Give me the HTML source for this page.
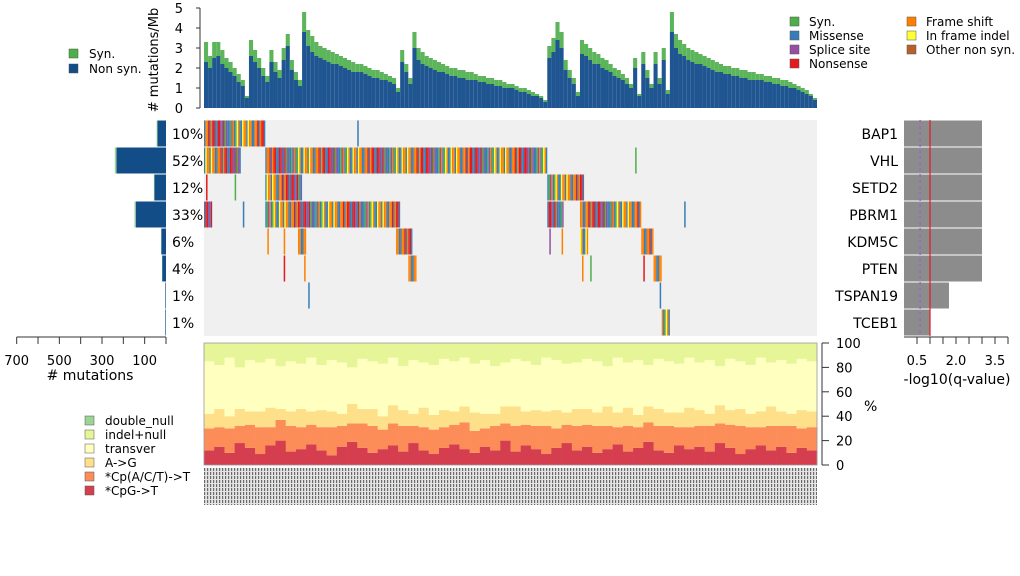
<!DOCTYPE html>
<html><head><meta charset="utf-8">
<style>
html,body{margin:0;padding:0;background:#fff;}
svg{display:block;font-family:"DejaVu Sans","Liberation Sans",sans-serif;}
</style></head>
<body>
<svg id="chart" width="1020" height="576" viewBox="0 0 1020 576">
<g font-size="12">
<rect x="69" y="49" width="9" height="9" fill="#4daf4a" stroke="#555" stroke-width="0.5"/><text x="89" y="58">Syn.</text>
<rect x="69" y="64" width="9" height="9" fill="#134d87" stroke="#555" stroke-width="0.5"/><text x="89" y="73">Non syn.</text>
</g>
<g font-size="12">
<rect x="790" y="17" width="9" height="9" fill="#4daf4a" stroke="#555" stroke-width="0.5"/><text x="809" y="26">Syn.</text>
<rect x="790" y="31" width="9" height="9" fill="#377eb8" stroke="#555" stroke-width="0.5"/><text x="809" y="40">Missense</text>
<rect x="790" y="45" width="9" height="9" fill="#984ea3" stroke="#555" stroke-width="0.5"/><text x="809" y="54">Splice site</text>
<rect x="790" y="59" width="9" height="9" fill="#e41a1c" stroke="#555" stroke-width="0.5"/><text x="809" y="68">Nonsense</text>
<rect x="907" y="17" width="9" height="9" fill="#ff7f00" stroke="#555" stroke-width="0.5"/><text x="926" y="26">Frame shift</text>
<rect x="907" y="31" width="9" height="9" fill="#ffff33" stroke="#555" stroke-width="0.5"/><text x="926" y="40">In frame indel</text>
<rect x="907" y="45" width="9" height="9" fill="#b8602a" stroke="#555" stroke-width="0.5"/><text x="926" y="54">Other non syn.</text>
</g>
<g id="tmb"></g>
<text transform="translate(158,60) rotate(-90)" text-anchor="middle" font-size="13"># mutations/Mb</text>
<rect x="204" y="120" width="613" height="216" fill="#f0f0f0"/>
<g id="onco"></g>
<g id="left"></g>
<g id="right"></g>
<g id="comp"></g>
<text x="864" y="411" font-size="14">%</text>
<defs><pattern id="lab" width="3" height="4" patternUnits="userSpaceOnUse"><rect width="3" height="4" fill="#e4e4e4"/><rect width="1.2" height="3" fill="#6a6a6a"/></pattern></defs>
<rect x="204" y="468" width="613" height="37" fill="url(#lab)"/>
<g font-size="12">
<rect x="85" y="416" width="9" height="9" fill="#99d594" stroke="#555" stroke-width="0.5"/><text x="105" y="425">double_null</text>
<rect x="85" y="430" width="9" height="9" fill="#e6f598" stroke="#555" stroke-width="0.5"/><text x="105" y="439">indel+null</text>
<rect x="85" y="444" width="9" height="9" fill="#ffffbf" stroke="#555" stroke-width="0.5"/><text x="105" y="453">transver</text>
<rect x="85" y="458" width="9" height="9" fill="#fee08b" stroke="#555" stroke-width="0.5"/><text x="105" y="467">A-&gt;G</text>
<rect x="85" y="472" width="9" height="9" fill="#fc8d59" stroke="#555" stroke-width="0.5"/><text x="105" y="481">*Cp(A/C/T)-&gt;T</text>
<rect x="85" y="486" width="9" height="9" fill="#d53e4f" stroke="#555" stroke-width="0.5"/><text x="105" y="495">*CpG-&gt;T</text>
</g>
</svg>
<script>
const tmbTotal=[3.3,2.6,3.3,3.3,2.9,2.5,2.3,2.0,1.7,1.4,0.6,3.4,2.9,2.5,2.0,
1.6,2.9,2.3,1.9,3.0,3.7,2.4,1.8,1.4,
4.8,3.9,3.6,3.3,3.1,3.0,2.9,2.8,2.7,2.6,2.5,2.4,2.3,2.2,2.2,2.1,2.0,1.9,1.9,1.8,1.7,1.6,1.5,1.0,
2.9,2.2,1.5,3.8,3.0,2.8,2.6,2.5,2.4,2.3,2.2,2.1,2.0,2.0,1.9,1.9,1.8,1.8,1.7,1.6,1.6,1.5,1.5,1.4,1.4,1.3,1.2,1.2,1.1,1.0,1.0,0.9,0.8,0.7,0.6,0.4,
3.1,3.5,4.3,3.8,2.4,1.9,1.5,0.8,3.4,
3.2,3.0,2.8,2.7,2.5,2.4,2.2,2.0,1.9,1.7,1.5,1.2,2.5,0.7,
2.8,1.9,1.2,2.8,1.5,3.0,0.9,
4.8,3.7,3.4,3.2,3.0,2.9,2.8,2.7,2.6,2.5,2.4,2.3,2.2,2.1,2.1,2.0,2.0,1.9,1.9,1.8,1.8,1.7,1.7,1.6,1.6,1.5,1.5,1.4,1.4,1.3,1.2,1.1,1.0,0.9,0.7,0.5];
const tmbSyn=[1.0,0.6,0.8,0.7,0.7,0.5,0.5,0.4,0.4,0.3,0.1,0.8,0.6,0.5,0.4,
0.3,0.6,0.5,0.4,0.6,0.6,0.5,0.4,0.3,
1.0,0.8,0.8,0.7,0.6,0.6,0.6,0.6,0.5,0.5,0.5,0.5,0.5,0.4,0.4,0.4,0.4,0.4,0.4,0.4,0.3,0.3,0.3,0.2,
0.6,0.4,0.3,0.8,0.6,0.6,0.5,0.5,0.5,0.5,0.4,0.4,0.4,0.4,0.4,0.4,0.4,0.4,0.3,0.3,0.3,0.3,0.3,0.3,0.3,0.3,0.2,0.2,0.2,0.2,0.2,0.2,0.2,0.1,0.1,0.1,
0.6,0.7,0.9,0.8,0.5,0.4,0.3,0.2,0.7,
0.6,0.6,0.6,0.5,0.5,0.5,0.4,0.4,0.4,0.3,0.3,0.2,0.5,0.1,
0.6,0.4,0.2,0.6,0.3,0.6,0.2,
1.0,0.7,0.7,0.6,0.6,0.6,0.6,0.5,0.5,0.5,0.5,0.5,0.4,0.4,0.4,0.4,0.4,0.4,0.4,0.4,0.4,0.3,0.3,0.3,0.3,0.3,0.3,0.3,0.3,0.3,0.2,0.2,0.2,0.2,0.1,0.1];
const tmbTicks=[0,1,2,3,4,5];
const genes=["BAP1","VHL","SETD2","PBRM1","KDM5C","PTEN","TSPAN19","TCEB1"];
const genePct=["10%","52%","12%","33%","6%","4%","1%","1%"];
const geneNonSyn=[40,232,54,142,22,18,3,3];
const geneSyn=[4,8,3,6,1,1,0,0];
const geneQ=[3.0,3.0,3.0,3.0,3.0,3.0,1.73,1.0];
const qTicks=[0.5,1,1.5,2,2.5,3,3.5,4];
const qLabels=[0.5,2.0,3.5];
const countTicks=[700,600,500,400,300,200,100,0];
const countLabels=[700,500,300,100];
const geneRanges=[
 [[0,14],[37,37]],
 [[0,8],[15,83],[105,105]],
 [[0,0],[7,7],[15,23],[84,92]],
 [[0,1],[9,9],[15,47],[84,87],[92,106],[117,117]],
 [[15,15],[19,19],[23,24],[47,50],[84,84],[87,87],[92,93],[107,109]],
 [[19,19],[24,24],[50,51],[92,92],[94,94],[107,107],[110,111]],
 [[25,25],[111,111]],
 [[112,113]]];
const compCpG=[12,15,10,18,14,9,16,20,11,13,17,12,8,15,19,14,10,13,16,11,18,12,9,14,17,13,10,15,12,20,11,16,13,9,14,18,12,15,10,13,17,11,14,19,12,10,16,13,15,11,18,14,9,13,16,12,15,10,14,12];
const compCpA=[18,16,20,14,19,22,15,17,21,18,16,19,23,17,15,20,22,16,18,21,14,19,20,17,16,22,18,15,20,14,21,17,19,23,16,15,20,18,22,19,14,21,17,16,20,22,15,18,17,21,16,19,23,18,15,20,17,22,16,19];
const compAG=[12,15,10,14,11,13,16,9,12,15,11,14,13,10,16,12,14,11,15,13,10,16,12,14,11,13,15,12,10,14,16,11,13,12,15,10,14,13,11,16,12,15,10,13,14,11,12,16,13,10,15,12,14,11,13,16,12,10,15,13];
const compIndel=[15,18,12,20,14,16,13,19,15,17,12,18,14,16,20,13,15,17,12,19,14,16,18,13,15,12,17,14,19,16,13,15,18,12,14,17,16,13,15,19,12,16,14,18,13,15,17,12,16,14,19,13,15,18,12,16,14,17,13,15];
const compTicks=[0,20,40,60,80,100];

const NS="http://www.w3.org/2000/svg";
function mk(parent,tag,attrs){const e=document.createElementNS(NS,tag);for(const k in attrs)e.setAttribute(k,attrs[k]);parent.appendChild(e);return e;}
const X0=204,X1=817,N=tmbTotal.length,bw=(X1-X0)/N;
const sx=i=>X0+i*bw;
const tmb=document.getElementById('tmb');
const ty=v=>108-v*20;
let ax=mk(tmb,'line',{x1:200,y1:ty(0),x2:200,y2:ty(5),stroke:'#333'});

tmbTicks.forEach(t=>{
 const l=mk(tmb,'line',{x1:196,x2:200,y1:ty(t),y2:ty(t),stroke:'#333'});
 
 const tx=mk(tmb,'text',{x:183,y:ty(t)+5,'text-anchor':'end','font-size':13});tx.textContent=t;
 
});
tmbTotal.forEach((v,i)=>{
 const s=tmbSyn[i];
 const a=mk(tmb,'rect',{x:sx(i),y:ty(v-s),width:bw,height:(v-s)*20,fill:'#1f5591'});
 
 const b=mk(tmb,'rect',{x:sx(i),y:ty(v),width:bw,height:s*20,fill:'#5cb55a'});
 
});
const onco=document.getElementById('onco');
const RH=27,RY=i=>120+i*RH;
const cols=['#377eb8','#ff7f00','#e41a1c','#377eb8','#984ea3','#ff7f00','#377eb8','#e41a1c','#ffff33','#377eb8','#ff7f00','#4daf4a'];
genes.forEach((g,r)=>{
 geneRanges[r].forEach(([s,e])=>{
  const single=(s===e);
  for(let i=s;i<=e;i++){
   const sub=single?1:3;
   for(let k=0;k<sub;k++){
    const c=single?(r===1&&i>100||r===2&&i===7?'#4daf4a':cols[(i*3+r)%cols.length]):cols[(i*7+k*5+r*3)%cols.length];
    const w=single?1.5:bw/sub;
    const rc=mk(onco,'rect',{x:sx(i)+(single?bw/2:k*w),y:RY(r)+0.5,width:w,height:RH-1,fill:c});
    
   }
  }
 });
 const p=mk(onco,'text',{x:172,y:RY(r)+19,'font-size':14});p.textContent=genePct[r];
 
 const gl=mk(onco,'text',{x:898,y:RY(r)+19,'font-size':14,'text-anchor':'end'});gl.textContent=g;
 
});
const left=document.getElementById('left');
const cx=v=>166-v*0.2133;
genes.forEach((g,r)=>{
 const ns=geneNonSyn[r],sy=geneSyn[r];
 const a=mk(left,'rect',{x:cx(ns),y:RY(r)+0.5,width:166-cx(ns),height:RH-1,fill:'#134d87'});
 
 const b=mk(left,'rect',{x:cx(ns+sy),y:RY(r)+0.5,width:cx(ns)-cx(ns+sy),height:RH-1,fill:'#9fd39d'});
 
});
let la=mk(left,'line',{x1:cx(700),x2:cx(0),y1:337,y2:337,stroke:'#333'});

countTicks.forEach(t=>{const l=mk(left,'line',{x1:cx(t),x2:cx(t),y1:337,y2:344,stroke:'#333'});
 });
countLabels.forEach(t=>{const tx=mk(left,'text',{x:cx(t),y:365,'text-anchor':'middle','font-size':13});tx.textContent=t;
 });
let lt=mk(left,'text',{x:90,y:380,'text-anchor':'middle','font-size':14});lt.textContent='# mutations';

const right=document.getElementById('right');
const qx=v=>904+v*26;
genes.forEach((g,r)=>{
 const b=mk(right,'rect',{x:qx(0),y:RY(r)+0.5,width:qx(geneQ[r])-qx(0),height:RH-1,fill:'#8c8c8c'});
 
});
let pl=mk(right,'line',{x1:qx(0.62),x2:qx(0.62),y1:120,y2:336,stroke:'#9966cc','stroke-width':1.5,'stroke-dasharray':'3,3'});

let rl=mk(right,'line',{x1:qx(1),x2:qx(1),y1:120,y2:336,stroke:'#e41a1c','stroke-width':1.2});

let ra=mk(right,'line',{x1:qx(0),x2:qx(4),y1:337,y2:337,stroke:'#333'});

qTicks.forEach(t=>{const l=mk(right,'line',{x1:qx(t),x2:qx(t),y1:337,y2:344,stroke:'#333'});
 });
qLabels.forEach(t=>{const tx=mk(right,'text',{x:qx(t),y:365,'text-anchor':'middle','font-size':13});tx.textContent=t.toFixed(1);
 });
let rt=mk(right,'text',{x:957,y:384,'text-anchor':'middle','font-size':14});rt.textContent='-log10(q-value)';

const comp=document.getElementById('comp');
const CY0=465,CY1=343,cy=v=>CY0-(CY0-CY1)*v/100;
const M=compCpG.length,cw=(X1-X0)/M;
for(let i=0;i<M;i++){
 const segs=[[compCpG[i],'#d53e4f'],[compCpA[i],'#fc8d59'],[compAG[i],'#fee08b']];
 const used=compCpG[i]+compCpA[i]+compAG[i]+compIndel[i];
 segs.push([100-used,'#ffffbf']);segs.push([compIndel[i],'#e6f598']);
 let acc=0;
 segs.forEach(([v,c])=>{
  const r=mk(comp,'rect',{x:X0+i*cw,y:cy(acc+v),width:cw+0.3,height:cy(acc)-cy(acc+v),fill:c});
  
  acc+=v;
 });
}
let cb=mk(comp,'rect',{x:X0,y:CY1,width:X1-X0,height:CY0-CY1,fill:'none',stroke:'#999','stroke-width':0.8});

let ca=mk(comp,'line',{x1:822,x2:822,y1:CY1,y2:CY0,stroke:'#333'});

compTicks.forEach(t=>{
 const l=mk(comp,'line',{x1:822,x2:829,y1:cy(t),y2:cy(t),stroke:'#333'});
 
 const tx=mk(comp,'text',{x:836,y:cy(t)+5,'font-size':13});tx.textContent=t;
 
});
</script>
</body></html>
